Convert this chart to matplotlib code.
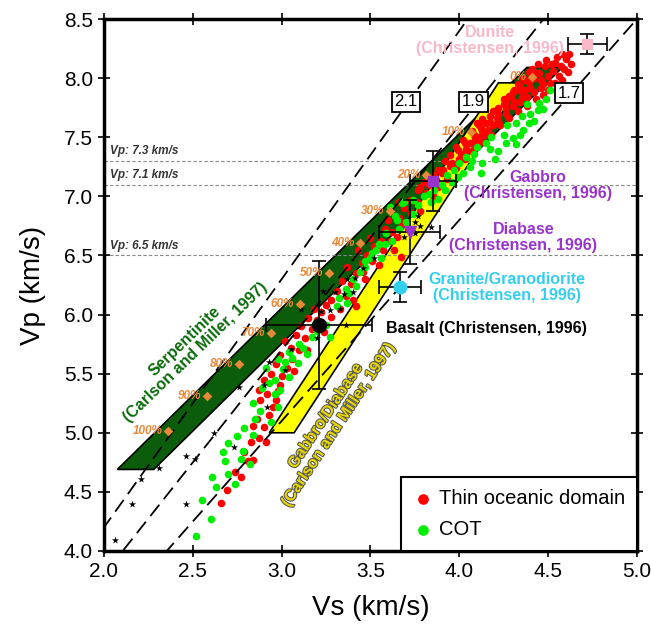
import numpy as np
import matplotlib.pyplot as plt
import matplotlib.patheffects as pe
from matplotlib.patches import Polygon

plt.rcParams['font.family'] = ['Liberation Sans', 'DejaVu Sans']

# Vp/Vs reference lines
ratios = [2.1, 1.9, 1.7]
ratio_label_vs = [3.70, 4.08, 4.62]
ratio_label_vp = [7.80, 7.80, 7.87]

# horizontal reference Vp levels
vp_levels = [7.3, 7.1, 6.5]

# Carlson and Miller (1997) fields
serp_vs = [2.075, 2.28, 4.58, 4.38]
serp_vp = [4.69, 4.69, 8.09, 8.09]
gab_vs = [2.93, 3.07, 4.35, 4.22]
gab_vp = [5.00, 5.00, 7.96, 7.96]

# serpentinization degree along serpentinite field
serp_pct = ['0%', '10%', '20%', '30%', '40%', '50%', '60%', '70%', '80%', '90%', '100%']
serp_pct_vs = [4.407, 4.064, 3.812, 3.610, 3.441, 3.268, 3.103, 2.938, 2.762, 2.578, 2.362]
serp_pct_vp = [8.007, 7.542, 7.180, 6.878, 6.603, 6.354, 6.089, 5.841, 5.582, 5.311, 5.018]

# Christensen (1996) rocks
rock_names = ['Dunite', 'Gabbro', 'Diabase', 'Granite/Granodiorite', 'Basalt']
rock_vs = [4.72, 3.85, 3.72, 3.665, 3.21]
rock_vp = [8.29, 7.13, 6.70, 6.236, 5.912]
rock_vs_err = [0.11, 0.13, 0.17, 0.118, 0.30]
rock_vp_err = [0.087, 0.25, 0.27, 0.127, 0.545]

# Thin oceanic domain (Vs, Vp)
thin_pts = [
    (2.66, 4.41), (2.69, 4.52), (2.74, 4.67), (2.77, 4.63), (2.79, 4.84), (2.81, 4.76),
    (2.84, 4.77), (2.83, 4.92), (2.87, 4.96), (2.91, 4.92), (2.90, 5.05), (2.84, 5.06),
    (2.88, 5.28), (2.92, 5.33), (2.97, 5.28), (2.99, 5.40), (2.86, 5.12), (2.93, 5.15),
    (2.95, 5.22), (2.87, 5.36), (2.90, 5.45), (2.94, 5.50), (3.00, 5.48), (2.97, 5.58),
    (3.03, 5.55), (3.06, 5.62), (2.99, 5.66), (3.05, 5.72), (3.10, 5.70), (3.02, 5.78),
    (3.08, 5.83), (3.13, 5.80), (3.11, 5.90), (3.17, 5.88), (3.15, 5.97), (3.20, 5.95),
    (3.22, 6.02), (3.25, 6.08), (3.18, 6.05), (3.28, 6.12), (3.31, 6.20), (3.36, 6.16),
    (3.34, 6.28), (3.39, 6.26), (3.42, 6.35), (3.37, 6.40), (3.45, 6.44), (3.48, 6.50),
    (3.43, 6.55), (3.52, 6.58), (3.50, 6.65), (3.56, 6.62), (3.58, 6.72), (3.62, 6.70),
    (3.60, 6.80), (3.66, 6.82), (3.69, 6.90), (3.66, 6.95), (3.72, 6.97), (3.77, 7.05),
    (3.78, 7.08), (3.80, 7.12), (3.81, 7.03), (3.86, 7.18), (3.88, 7.22), (3.90, 7.20),
    (3.92, 7.30), (3.95, 7.35), (3.96, 7.28), (3.98, 7.42), (3.99, 7.39), (4.02, 7.48),
    (4.03, 7.45), (4.07, 7.55), (4.08, 7.52), (4.01, 7.36), (4.10, 7.62), (4.11, 7.60),
    (4.13, 7.65), (4.12, 7.58), (4.17, 7.68), (4.19, 7.72), (4.15, 7.62), (4.22, 7.75),
    (4.22, 7.70), (4.25, 7.82), (4.26, 7.80), (4.28, 7.85), (4.31, 7.90), (4.30, 7.88),
    (4.33, 7.95), (4.34, 7.93), (4.36, 8.00), (4.37, 7.98), (4.39, 8.05), (4.35, 7.84),
    (4.40, 7.92), (4.42, 8.00), (4.41, 8.08), (4.45, 8.04), (4.44, 8.12), (4.48, 8.10),
    (4.47, 7.95), (4.50, 8.02), (4.52, 8.12), (4.55, 8.18), (4.53, 8.06), (4.57, 8.10),
    (4.58, 8.20), (4.60, 8.16), (4.62, 8.20), (4.61, 8.05), (4.58, 7.98), (4.54, 7.96),
    (4.50, 7.90), (4.47, 7.86), (4.43, 7.82), (4.38, 7.76), (4.33, 7.72), (4.28, 7.66),
    (4.23, 7.60), (4.18, 7.52), (4.13, 7.46), (4.08, 7.40), (4.03, 7.32), (3.98, 7.24),
    (3.93, 7.15), (3.88, 7.08), (4.63, 8.12), (4.56, 8.02), (4.46, 7.98), (4.37, 7.90),
    (4.31, 7.80), (4.26, 7.74), (4.21, 7.66), (4.16, 7.56), (4.11, 7.50), (4.06, 7.45),
    (3.33, 6.05), (3.40, 6.12), (3.47, 6.30), (3.55, 6.42), (3.63, 6.55), (3.71, 6.72),
    (3.78, 6.88), (3.85, 7.00), (3.14, 5.70), (3.07, 5.52), (2.98, 5.35), (3.24, 5.85),
    (3.28, 5.98), (3.42, 6.07), (3.67, 6.49),
    (4.05, 7.38), (4.09, 7.48), (4.13, 7.55), (4.17, 7.63), (4.21, 7.72), (4.25, 7.78),
    (4.29, 7.84), (4.34, 7.90), (4.39, 7.97), (4.43, 8.04), (4.49, 8.15), (4.54, 8.13),
    (4.59, 8.08), (4.56, 7.92), (4.51, 7.96), (4.46, 7.92), (4.42, 7.88), (4.38, 7.84),
    (4.34, 7.80), (4.30, 7.76), (4.26, 7.70), (4.22, 7.64), (4.19, 7.60), (4.14, 7.52),
    (4.09, 7.44), (4.04, 7.40), (4.00, 7.32), (3.95, 7.26), (3.91, 7.22), (3.87, 7.14),
    (3.83, 7.10), (3.46, 6.36), (3.51, 6.45), (3.57, 6.55), (3.61, 6.62), (3.65, 6.66),
    (3.68, 6.77), (3.73, 6.86), (3.76, 6.95),
]

# COT (Vs, Vp)
cot_pts = [
    (2.52, 4.13), (2.60, 4.27), (2.55, 4.43), (2.63, 4.54), (2.61, 4.63), (2.67, 4.84),
    (2.68, 4.76), (2.70, 4.91), (2.70, 4.65), (2.74, 4.57), (2.77, 4.78), (2.78, 4.85),
    (2.75, 4.97), (2.79, 5.04), (2.82, 4.74), (2.84, 4.98), (2.85, 5.12), (2.88, 5.18),
    (2.94, 5.09), (2.96, 5.33), (2.98, 5.22), (2.84, 5.25), (2.89, 5.38), (2.93, 5.42),
    (2.96, 5.45), (2.91, 5.55), (2.98, 5.62), (3.02, 5.60), (3.04, 5.68), (3.01, 5.54),
    (3.04, 5.47), (2.99, 5.36), (3.09, 5.59), (3.14, 5.67), (3.17, 5.81), (3.25, 5.91),
    (3.27, 5.81), (3.10, 5.75), (3.19, 5.92), (3.31, 6.07), (3.37, 6.10), (3.32, 6.14),
    (3.36, 6.22), (3.40, 6.30), (3.38, 6.18), (3.44, 6.36), (3.47, 6.40), (3.50, 6.48),
    (3.53, 6.55), (3.55, 6.60), (3.59, 6.69), (3.65, 6.80), (3.61, 6.91), (3.68, 6.94),
    (3.69, 6.95), (3.62, 6.62), (3.66, 6.72), (3.70, 6.78), (3.74, 6.85), (3.77, 6.93),
    (3.80, 7.00), (3.56, 6.48), (3.42, 6.24), (3.64, 6.83), (3.58, 6.60), (3.74, 6.97),
    (3.86, 7.05), (3.90, 7.10), (3.93, 7.18), (3.97, 7.22), (4.00, 7.28), (4.04, 7.33),
    (4.08, 7.36), (4.13, 7.28), (4.10, 7.42), (4.15, 7.45), (3.96, 7.12), (4.02, 7.20),
    (4.06, 7.25), (4.18, 7.50), (4.22, 7.38), (4.25, 7.52), (4.30, 7.49), (4.27, 7.60),
    (4.32, 7.62), (4.36, 7.56), (4.35, 7.68), (4.40, 7.70), (4.44, 7.73), (4.45, 7.79),
    (4.49, 7.82), (4.51, 7.90), (4.42, 7.64), (4.38, 7.78), (4.32, 7.44), (4.20, 7.32),
    (4.12, 7.20), (3.84, 6.95), (3.88, 6.98),
    (4.26, 7.45), (4.34, 7.52), (4.39, 7.62), (4.47, 7.74), (4.17, 7.40), (4.07, 7.30),
    (3.99, 7.16), (3.92, 7.05), (3.83, 7.02), (3.47, 6.45), (3.51, 6.52), (3.20, 5.86),
    (3.12, 5.72), (3.06, 5.63),
]

# black stars (Vs, Vp)
star_pts = [
    (2.06, 4.09), (2.16, 4.40), (2.21, 4.61), (2.31, 4.70), (2.46, 4.80), (2.51, 4.78),
    (2.46, 4.40), (2.62, 5.00), (2.73, 4.88), (2.76, 5.39), (2.90, 5.40), (2.92, 5.22),
    (2.93, 5.60), (3.02, 5.53), (3.05, 5.71), (3.20, 5.80), (3.11, 6.05), (3.22, 6.03),
    (3.27, 6.04), (3.33, 6.05), (3.36, 5.91), (3.23, 6.20), (3.30, 6.19), (3.35, 6.17),
    (3.40, 6.19), (3.37, 6.30), (3.41, 6.31), (3.46, 6.39), (3.52, 6.48), (3.77, 6.83),
    (3.75, 6.78), (3.78, 6.75), (3.75, 6.69), (3.84, 6.74), (3.69, 6.66),
]

fig = plt.figure(figsize=(6.51, 6.34), dpi=100)
ax = fig.add_axes([104 / 651, 1 - 551 / 634, 533 / 651, 532 / 634])
ax.set_xlim(2.0, 5.0)
ax.set_ylim(4.0, 8.5)

# fields
ax.add_patch(Polygon(list(zip(serp_vs, serp_vp)), closed=True, facecolor='#0b5d0b',
                     edgecolor='black', lw=1.2, zorder=1))
ax.add_patch(Polygon(list(zip(gab_vs, gab_vp)), closed=True, facecolor='#ffff00',
                     edgecolor='black', lw=1.2, zorder=1))

# horizontal Vp levels
for v in vp_levels:
    ax.axhline(v, color='#888888', lw=0.8, ls=(0, (3, 2)), zorder=1.5)
    ax.text(2.035, v + 0.03, f'Vp: {v} km/s', fontsize=8.5, fontstyle='italic',
            fontweight='bold', color='#333333', ha='left', va='bottom', zorder=6)

# data points
tv, tp = np.array(thin_pts).T
cv, cp = np.array(cot_pts).T
sv, sp = np.array(star_pts).T
ax.scatter(tv, tp, s=30, color='#ff0000', lw=0, zorder=2, label='Thin oceanic domain')
ax.scatter(cv, cp, s=30, color='#00ee00', lw=0, zorder=2.1, label='COT')
ax.scatter(sv, sp, s=30, marker='*', color='black', lw=0, zorder=2.2)

# Vp/Vs ratio lines
vs_line = np.array([1.5, 5.5])
for r, lx, ly in zip(ratios, ratio_label_vs, ratio_label_vp):
    ax.plot(vs_line, r * vs_line, color='black', lw=1.3, ls=(0, (8, 4)), zorder=3)
    ax.text(lx, ly, f'{r}', fontsize=12, ha='center', va='center', zorder=6,
            bbox=dict(boxstyle='square,pad=0.15', facecolor='white', edgecolor='black', lw=1.3))

# serpentinization percentages
ax.scatter(serp_pct_vs, serp_pct_vp, s=24, marker='D', color='#e8893a', lw=0, zorder=4)
for lab, x, y in zip(serp_pct, serp_pct_vs, serp_pct_vp):
    ax.annotate(lab, (x, y), xytext=(-4, 0), textcoords='offset points', ha='right',
                va='center', fontsize=8.5, fontstyle='italic', fontweight='bold',
                color='#e8893a', zorder=5)

# Christensen (1996) rocks with error bars
ax.errorbar(rock_vs, rock_vp, xerr=rock_vs_err, yerr=rock_vp_err, fmt='none',
            ecolor='black', elinewidth=1.2, capsize=5, capthick=1.2, zorder=4)
ax.plot(rock_vs[0], rock_vp[0], 's', ms=7, color='#f7b8c8', zorder=5)
ax.plot(rock_vs[1], rock_vp[1], 's', ms=7, color='#9933cc', zorder=5)
ax.plot(rock_vs[2], rock_vp[2], 'v', ms=8, color='#9933cc', zorder=5)
ax.plot(rock_vs[3], rock_vp[3], 'o', ms=9, color='#33cfee', zorder=5)
ax.plot(rock_vs[4], rock_vp[4], 'o', ms=10, color='black', zorder=5)

kw = dict(fontsize=11.5, fontweight='bold', ha='center', va='center', linespacing=1.05, zorder=6)
ax.text(4.17, 8.32, 'Dunite\n(Christensen, 1996)', color='#f7b8c8', **kw)
ax.text(4.44, 7.09, 'Gabbro\n(Christensen, 1996)', color='#9933cc', **kw)
ax.text(4.36, 6.65, 'Diabase\n(Christensen, 1996)', color='#9933cc', **kw)
ax.text(4.27, 6.23, 'Granite/Granodiorite\n(Christensen, 1996)', color='#33cfee', **kw)
ax.text(3.59, 5.88, 'Basalt (Christensen, 1996)', color='black', fontsize=11.5,
        fontweight='bold', ha='left', va='center', zorder=6)

ax.text(2.483, 5.726, 'Serpentinite\n(Carlson and Miller, 1997)', color='#0b6b0b',
        rotation=44, rotation_mode='anchor', **kw)
ax.text(3.283, 5.108, 'Gabbro/Diabase\n(Carlson and Miller, 1997)', color='#e8d800',
        rotation=56.5, rotation_mode='anchor',
        path_effects=[pe.withStroke(linewidth=1.5, foreground='#555555')], **kw)

# axes styling
ax.set_xticks(np.arange(2.0, 5.01, 0.5))
ax.set_yticks(np.arange(4.0, 8.51, 0.5))
ax.xaxis.set_major_formatter(plt.FormatStrFormatter('%.1f'))
ax.yaxis.set_major_formatter(plt.FormatStrFormatter('%.1f'))
ax.tick_params(direction='inout', length=9, width=1.2, top=True, right=True, labelsize=15)
for s in ax.spines.values():
    s.set_linewidth(2.5)
ax.set_xlabel('Vs (km/s)', fontsize=20, labelpad=10)
ax.set_ylabel('Vp (km/s)', fontsize=20, labelpad=13)

leg = ax.legend(loc='lower right', bbox_to_anchor=(1, 0), borderaxespad=0, fancybox=False,
                edgecolor='black', fontsize=14.5, markerscale=1.4, handlelength=1.0,
                handletextpad=0.3, borderpad=0.6, labelspacing=0.6, framealpha=1)
leg.get_frame().set_linewidth(1.5)
leg.set_zorder(10)

fig.savefig('out.png', dpi=100)
